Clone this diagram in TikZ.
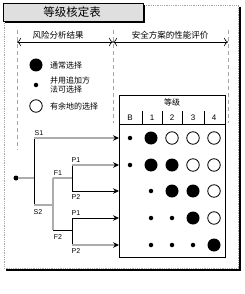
\documentclass[tikz,border=0pt]{standalone}
\usepackage{fontspec}
\setmainfont{Liberation Sans}
\newfontfamily\cjk{Noto Sans CJK SC}
\usetikzlibrary{arrows.meta}
\tikzset{
  grayline/.style={draw=gray!65, line width=1.6pt},
  blackline/.style={draw=black, line width=0.8pt},
  tochoice/.style={-{Stealth[black,length=6pt,width=5.5pt]}},
  guide/.style={draw=gray!70, line width=1pt, dash pattern=on 4pt off 3pt},
  gb/.style={circle, fill=black, minimum size=13pt, inner sep=0pt},
  gs/.style={circle, fill=black, minimum size=4.5pt, inner sep=0pt},
  go/.style={circle, draw=black, line width=0.8pt, minimum size=12.5pt, inner sep=0pt},
  lbl/.style={font=\fontsize{7}{7}\selectfont, inner sep=0pt},
  cn/.style={font=\cjk\fontsize{8}{9}\selectfont, inner sep=0pt, align=left}
}
\begin{document}
\begin{tikzpicture}[x=1pt,y=-1pt]
  \useasboundingbox (0,0) rectangle (244,294);
  % outer frame with shadow
  \draw[gray!70, densely dotted, line width=0.8pt] (4,5) rectangle (238,268);
  \draw[black, line width=1.6pt] (240,7) -- (240,270) -- (6,270);
  % title box
  \fill[black] (5,5) rectangle (145,23);
  \draw[black, fill=gray!25, line width=0.6pt] (3,3) rectangle (143,21);
  \node[font=\cjk\fontsize{11.5}{12}\selectfont] (title) at (72,12) {等级核定表};
  % guides
  \draw[guide] (17,30) -- (17,150);
  \draw[guide] (113,30) -- (113,123);
  \draw[guide] (228,30) -- (228,123);
  \node[cn, font=\cjk\fontsize{8.5}{9}\selectfont] (risk) at (58,35) {风险分析结果};
  \node[cn, font=\cjk\fontsize{8.5}{9}\selectfont] (eval) at (170,35) {安全方案的性能评价};
  \coordinate (gl) at (17,42);
  \coordinate (gm) at (113,42);
  \coordinate (gr) at (228,42);
  \draw[{To[length=4pt]}-{To[length=4pt]}, line width=0.6pt] (gl) -- (gm);
  \draw[{To[length=4pt]}-{To[length=4pt]}, line width=0.6pt] (gm) -- (gr);
  % legend
  \node[gb] (keyb) at (36,65) {};
  \node[cn, anchor=west] (keybt) at (50,65) {通常选择};
  \node[gs] (keys) at (36,85) {};
  \node[cn, anchor=west] (keyst) at (50,85) {并用追加方\\法可选择};
  \node[go] (keyo) at (36,106) {};
  \node[cn, anchor=west] (keyot) at (50,106) {有余地的选择};
  % grade table
  \draw[line width=0.8pt] (119,95) rectangle (225,257);
  \node[cn] (grade) at (172,102) {等级};
  \draw[line width=0.8pt] (119,124) -- (225,124);
  \foreach \x in {142,162,182,204}
    \draw[line width=0.6pt] (\x,111) -- (\x,124);
  \node[lbl, font=\fontsize{8}{8}\selectfont] (hb) at (130,118) {B};
  \node[lbl, font=\fontsize{8}{8}\selectfont] (h1) at (152,118) {1};
  \node[lbl, font=\fontsize{8}{8}\selectfont] (h2) at (172,118) {2};
  \node[lbl, font=\fontsize{8}{8}\selectfont] (h3) at (193,118) {3};
  \node[lbl, font=\fontsize{8}{8}\selectfont] (h4) at (214,118) {4};
  % grades per case
  \node[gs] (a0) at (130,138) {};
  \node[gb] (a1) at (151,138) {};
  \node[go] (a2) at (172,138) {};
  \node[go] (a3) at (193,138) {};
  \node[go] (a4) at (214,138) {};
  \node[gs] (b0) at (130,165) {};
  \node[gb] (b1) at (151,165) {};
  \node[gb] (b2) at (172,165) {};
  \node[go] (b3) at (193,165) {};
  \node[go] (b4) at (214,165) {};
  \node[gs] (c1) at (151,191) {};
  \node[gb] (c2) at (172,191) {};
  \node[gb] (c3) at (193,191) {};
  \node[go] (c4) at (214,191) {};
  \node[gs] (d1) at (151,218) {};
  \node[gs] (d2) at (172,218) {};
  \node[gb] (d3) at (193,218) {};
  \node[go] (d4) at (214,218) {};
  \node[gs] (e1) at (151,245) {};
  \node[gs] (e2) at (172,245) {};
  \node[gs] (e3) at (193,245) {};
  \node[gb] (e4) at (214,245) {};
  % decision tree
  \node[circle, fill=black, minimum size=5pt, inner sep=0pt] (root) at (16,178) {};
  \coordinate (rs) at (34,178);
  \coordinate (s1) at (34,138);
  \coordinate (s2) at (34,205);
  \coordinate (fs) at (53,205);
  \coordinate (f1) at (53,178);
  \coordinate (f2) at (53,230);
  \coordinate (p1s) at (72,178);
  \coordinate (p1a) at (72,165);
  \coordinate (p1b) at (72,191);
  \coordinate (p2s) at (72,230);
  \coordinate (p2a) at (72,218);
  \coordinate (p2b) at (72,245);
  \coordinate (ta) at (119,138);
  \coordinate (tb) at (119,165);
  \coordinate (tc) at (119,191);
  \coordinate (td) at (119,218);
  \coordinate (te) at (119,245);
  \draw[blackline] (s1) -- (s2);
  \draw[grayline] (f1) -- (f2);
  \draw[blackline] (p1a) -- (p1b);
  \draw[blackline] (p2a) -- (p2b);
  \draw[grayline] (root) -- (rs);
  \draw[grayline, tochoice] (s1) -- (ta);
  \draw[grayline] (s2) -- (fs);
  \draw[grayline] (f1) -- (p1s);
  \draw[blackline] (f2) -- (p2s);
  \draw[grayline, tochoice] (p1a) -- (tb);
  \draw[blackline, tochoice] (p1b) -- (tc);
  \draw[blackline, tochoice] (p2a) -- (td);
  \draw[grayline, tochoice] (p2b) -- (te);
  \node[lbl] (ls1) at (39,133) {S1};
  \node[lbl] (ls2) at (38,212) {S2};
  \node[lbl] (lf1) at (58,173) {F1};
  \node[lbl] (lf2) at (58,237) {F2};
  \node[lbl] (lp1a) at (76,160) {P1};
  \node[lbl] (lp1b) at (76,197) {P2};
  \node[lbl] (lp2a) at (76,213) {P1};
  \node[lbl] (lp2b) at (76,251) {P2};
\end{tikzpicture}
\end{document}
